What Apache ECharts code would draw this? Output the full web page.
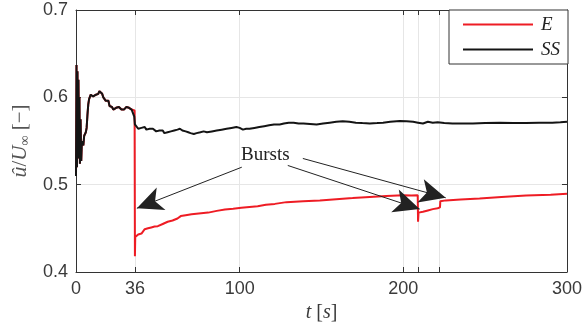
<!DOCTYPE html>
<html>
<head>
<meta charset="utf-8">
<script src="https://cdn.jsdelivr.net/npm/echarts@6/dist/echarts.min.js"></script>
<style>html,body{margin:0;padding:0;background:#fff}#c{width:585px;height:329px}</style>
</head>
<body>
<div id="c"></div>
<script>
// ---- data ----
const xTicks = [0, 36, 100, 200, 209, 222, 300];
const xLabels = [0, 36, 100, 200, 300];
const yTicks = [0.4, 0.5, 0.6, 0.7];

const tSS = [0,0.3,0.6,0.9,1.2,1.5,1.8,2.1,2.4,2.8,3.2,3.6,4.0,4.5,5.0,5.5,6.0,6.5,7.0,7.5,8.0,8.5,9.0,9.5,10,10.5,11,11.6,12.2,12.8,13.6,14.3,15,15.5,16,16.7,17.5,18.2,19,19.8,20.5,21.3,22,22.8,23.8,24.5,25.3,26.2,26.9,27.8,28.5,29.3,30,30.8,31.6,32.4,33.2,34,34.6,35.2,35.6,36.0,36.5,37.2,38,39,40,41,42,43,44,45,46,47,48,49,50,51,52,53,54,55,56,57,58,60,62,63.5,65,67,68.6,70,72,73.7,76,78,80,83,86,89,92,95,98,100,102,104,106,109,112,115,118,121,124.5,127,130,133,136,139,143,147,151,155,159,163,167,171,175,179.5,184,187.6,192,197.8,202,206,209,212,215,218,221,225,230,236,242.5,250,259,267,275,283,291,296,300];
const vSS = [0.51,0.637,0.52,0.63,0.53,0.62,0.55,0.60,0.524,0.575,0.527,0.55,0.552,0.545,0.556,0.558,0.56,0.565,0.58,0.592,0.598,0.597,0.603,0.605,0.603,0.601,0.600,0.599,0.603,0.601,0.604,0.607,0.606,0.607,0.604,0.600,0.601,0.596,0.594,0.596,0.590,0.588,0.589,0.586,0.585,0.588,0.587,0.589,0.587,0.586,0.584,0.586,0.585,0.589,0.590,0.588,0.589,0.586,0.587,0.586,0.578,0.569,0.570,0.567,0.564,0.562,0.565,0.566,0.566,0.563,0.565,0.564,0.562,0.564,0.562,0.561,0.563,0.562,0.560,0.562,0.559,0.557,0.560,0.560,0.561,0.562,0.563,0.564,0.562,0.561,0.560,0.559,0.558,0.559,0.560,0.561,0.560,0.561,0.562,0.563,0.564,0.565,0.566,0.565,0.563,0.564,0.564,0.565,0.566,0.567,0.568,0.569,0.569,0.570,0.571,0.571,0.570,0.570,0.5695,0.569,0.570,0.571,0.572,0.5725,0.572,0.571,0.5705,0.570,0.5705,0.571,0.572,0.573,0.5725,0.572,0.571,0.570,0.572,0.571,0.5715,0.5705,0.570,0.570,0.570,0.5705,0.571,0.5705,0.5705,0.571,0.571,0.5715,0.572];

const tE = [0,0.3,0.6,0.9,1.2,1.5,1.8,2.1,2.4,2.8,3.2,3.6,4.0,4.5,5.0,5.5,6.0,6.5,7.0,7.5,8.0,8.5,9.0,9.5,10,10.5,11,11.6,12.2,12.8,13.6,14.3,15,15.5,16,16.7,17.5,18.2,19,19.8,20.5,21.3,22,22.8,23.8,24.5,25.3,26.2,26.9,27.8,28.5,29.3,30,30.8,31.6,32.4,33.2,34,34.6,35.2,35.8,36.0,36.2,37,38,40,41,42,44,46,48,50,53,56,59,62,64,67,70.6,75,80.8,86,91,96,101,106,111,116,121.5,128.6,138.8,149,159,169,179.5,189.7,199.8,205,208.8,209,209.3,212,215,218,221,222.4,222.6,226,235,246.6,260,275,290,300];
const vE = [0.51,0.637,0.52,0.63,0.53,0.62,0.55,0.60,0.524,0.575,0.527,0.55,0.552,0.545,0.556,0.558,0.56,0.565,0.58,0.592,0.598,0.597,0.603,0.605,0.603,0.601,0.600,0.599,0.603,0.601,0.604,0.607,0.606,0.607,0.604,0.600,0.601,0.596,0.594,0.596,0.590,0.588,0.589,0.586,0.585,0.588,0.587,0.589,0.587,0.586,0.584,0.586,0.585,0.589,0.590,0.588,0.589,0.586,0.587,0.586,0.585,0.418,0.440,0.442,0.443,0.444,0.446,0.449,0.450,0.451,0.452,0.4525,0.455,0.4575,0.459,0.4613,0.464,0.465,0.466,0.467,0.468,0.470,0.4716,0.4725,0.4735,0.4745,0.4754,0.477,0.478,0.480,0.481,0.482,0.4834,0.4846,0.486,0.487,0.488,0.4875,0.488,0.4575,0.468,0.469,0.4705,0.472,0.473,0.474,0.481,0.482,0.483,0.4842,0.486,0.4875,0.4885,0.4895];

// annotation: "Bursts" arrows  [from t, from v] -> [to t, to v]
const arrowStarts = [[101.3, 0.520], [129.4, 0.522], [138.6, 0.530]];
const arrowEnds = [[37.2, 0.473], [210.0, 0.472], [225.9, 0.485]];
const burstsLabel = 'Bursts';

const zip = (a, b) => a.map((x, i) => [x, b[i]]);

const chart = echarts.init(document.getElementById('c'), null, {renderer: 'canvas'});
const axisColor = '#333';
const gridColor = '#e6e6e6';
const sansFont = 'Liberation Sans, Arial, sans-serif';
const serifFont = 'Liberation Serif, DejaVu Serif, serif';

chart.setOption({
  animation: false,
  backgroundColor: '#fff',
  grid: {left: 76, right: 17, top: 10, bottom: 57, containLabel: false},
  xAxis: [{
    type: 'value', min: 0, max: 300,
    axisLine: {show: true, onZero: false, lineStyle: {color: axisColor, width: 1}},
    axisTick: {show: true, inside: true, length: 5, customValues: xTicks, lineStyle: {color: axisColor}},
    axisLabel: {customValues: xLabels, color: '#3a3a3a', fontFamily: sansFont, fontSize: 18, margin: 8},
    splitLine: {show: true, lineStyle: {color: gridColor, width: 1}},
    name: '{i|t} [{i|s}]', nameLocation: 'middle', nameGap: 26,
    nameTextStyle: {color: '#3a3a3a', fontFamily: serifFont, fontSize: 20, rich: {i: {fontStyle: 'italic', fontFamily: serifFont, fontSize: 20, color: '#3a3a3a'}}}
  }, {
    type: 'value', min: 0, max: 300, position: 'top',
    axisLine: {show: true, onZero: false, lineStyle: {color: axisColor, width: 1}},
    axisTick: {show: true, inside: true, length: 5, customValues: xTicks, lineStyle: {color: axisColor}},
    axisLabel: {show: false}, splitLine: {show: false}
  }],
  yAxis: [{
    type: 'value', min: 0.4, max: 0.7, interval: 0.1,
    axisLine: {show: true, onZero: false, lineStyle: {color: axisColor, width: 1}},
    axisTick: {show: true, inside: true, length: 5, lineStyle: {color: axisColor}},
    axisLabel: {color: '#3a3a3a', fontFamily: sansFont, fontSize: 18, margin: 8, formatter: v => v.toFixed(1)},
    splitLine: {show: true, lineStyle: {color: gridColor, width: 1}},
    name: '{h|û}/{i|U}{s|∞} [−]', nameLocation: 'middle', nameGap: 43,
    nameTextStyle: {color: '#555', fontFamily: serifFont, fontSize: 21,
      rich: {
        h: {fontStyle: 'italic', fontFamily: serifFont, fontSize: 22, color: '#555'},
        i: {fontStyle: 'italic', fontFamily: serifFont, fontSize: 21, color: '#555'},
        s: {fontFamily: serifFont, fontSize: 14, color: '#555', verticalAlign: 'bottom', padding: [9, 0, 0, 0]}
      }}
  }, {
    type: 'value', min: 0.4, max: 0.7, interval: 0.1, position: 'right',
    axisLine: {show: true, onZero: false, lineStyle: {color: axisColor, width: 1}},
    axisTick: {show: true, inside: true, length: 5, lineStyle: {color: axisColor}},
    axisLabel: {show: false}, splitLine: {show: false}
  }],
  legend: {
    orient: 'vertical', right: 17, top: 10,
    backgroundColor: '#fff', borderColor: '#333', borderWidth: 1, borderRadius: 0,
    padding: [5, 8, 5, 14], itemGap: 6, itemWidth: 70, itemHeight: 2,
    icon: 'rect',
    textStyle: {fontFamily: serifFont, fontStyle: 'italic', fontSize: 19, color: '#222', lineHeight: 19, padding: [0, 0, 0, 3]},
    data: ['E', 'SS']
  },
  graphic: [{
    type: 'text', left: 241, top: 146,
    style: {text: burstsLabel, fontFamily: serifFont, fontSize: 19, fill: '#222'}
  }],
  series: [{
    name: 'E', type: 'line', showSymbol: false, symbol: 'none',
    data: zip(tE, vE), color: '#ee1c24',
    lineStyle: {color: '#ee1c24', width: 2}, z: 3
  }, {
    name: 'SS', type: 'line', showSymbol: false, symbol: 'none',
    data: zip(tSS, vSS), color: '#141414',
    lineStyle: {color: '#141414', width: 2}, z: 4,
    markLine: {
      silent: true, animation: false,
      symbol: ['none', 'arrow'],
      lineStyle: {color: '#222', width: 1, type: 'solid'},
      label: {show: false},
      data: arrowStarts.map((s, i) => [
        {coord: s, symbol: 'none'},
        {coord: arrowEnds[i], symbol: 'arrow', symbolSize: [18, 26], symbolOffset: [0, 0]}
      ])
    }
  }]
});
</script>
</body>
</html>
